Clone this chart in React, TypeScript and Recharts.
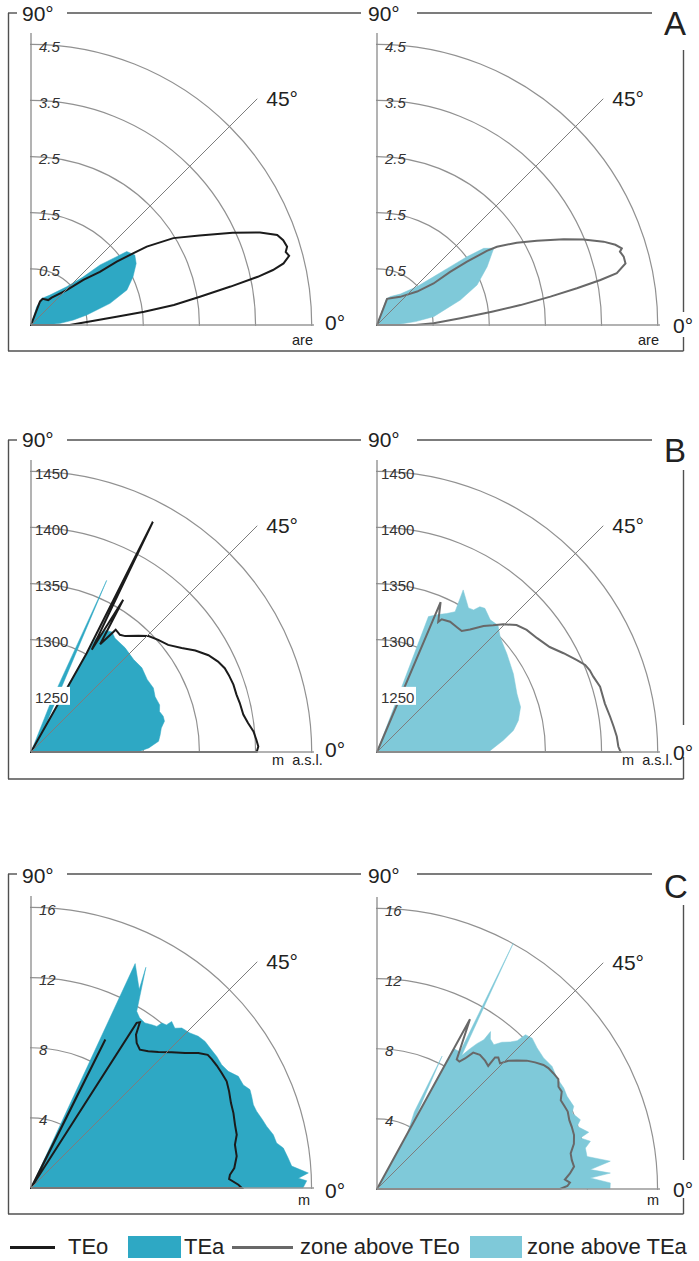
import React from "react";
import { RadarChart, Radar, PolarGrid, PolarAngleAxis, PolarRadiusAxis } from "recharts";

const FONT = "'Liberation Sans', Arial, Helvetica, sans-serif";
const TEA = "#2ea8c4";
const ZONE_TEA = "#7fc9d9";
const TEO = "#1b1b1b";
const ZONE_TEO = "#686868";

// ---------- A: area (are), polar angle in degrees ----------
const aLeftTeaAngle = [0, 3.3, 6.7, 10.2, 15.3, 20.1, 25.3, 30.3, 34, 37.5, 38.6, 41, 42.7, 47, 57.7, 68, 72.8, 75];
const aLeftTea = [-0.23, 0.02, 0.26, 0.51, 0.96, 1.32, 1.51, 1.67, 1.73, 1.65, 1.45, 1.13, 0.76, 0.43, 0.13, 0.01, -0.16, -0.5];
const aLeftTeoAngle = [0, 3.3, 5.5, 6.7, 8, 9.5, 10.9, 12, 12.8, 13.7, 15, 16, 17, 18.6, 20.1, 22, 24.6, 28, 31.4, 34.1, 35, 36.5, 37.7, 40.7, 44.4, 52.9, 55.3, 65.8, 69, 70];
const aLeftTeo = [0.19, 0.52, 1.03, 1.53, 2.07, 2.55, 3.12, 3.63, 3.92, 4.13, 4.26, 4.22, 4.27, 4.24, 4.17, 3.9, 3.45, 2.9, 2.47, 1.99, 1.73, 1.4, 1.05, 0.73, 0.39, 0.11, 0.04, 0.01, -0.05, -0.5];

const aRightTeaAngle = [0, 3, 5, 8.4, 16.7, 21.8, 27.9, 31.9, 33.3, 35.7, 37.2, 38.5, 40.4, 43.8, 53, 64.8, 70.3, 72];
const aRightTea = [-0.29, -0.05, 0.19, 0.52, 1.05, 1.42, 1.72, 1.91, 1.99, 1.84, 1.51, 1.17, 0.83, 0.49, 0.19, 0.06, -0.01, -0.5];
const aRightTeoAngle = [0, 1.7, 4.6, 6.6, 7.9, 9.3, 10.4, 11.4, 12.2, 13.9, 15.5, 16.8, 17.4, 18.6, 20.2, 22.5, 24.7, 27.8, 30.5, 33.1, 34, 35.1, 36, 36.3, 39.8, 50.5, 60.7, 69, 71];
const aRightTeo = [0.18, 0.51, 0.99, 1.56, 2.08, 2.63, 3.12, 3.56, 3.87, 4.06, 4.06, 4.02, 4.07, 3.98, 3.8, 3.48, 3.16, 2.72, 2.39, 2.05, 1.86, 1.46, 1.11, 0.75, 0.43, 0.15, 0.05, 0, -0.5];

// ---------- B: elevation (m a.s.l.) ----------
const bLeftTeaAngle = [0, 2, 4.8, 7.5, 10.4, 13, 15.1, 17.5, 20.1, 24, 27.6, 32, 37.2, 42, 47.9, 53.6, 56, 58.5, 60.3, 60.6, 61.3, 63.7, 66.2, 68.3, 69];
const bLeftTea = [1295, 1305, 1314, 1316, 1318, 1322, 1322, 1320, 1322, 1321, 1323, 1322, 1324, 1323, 1325, 1326, 1329, 1327, 1316, 1298, 1227, 1244, 1367, 1249, 1200];
const bLeftTeoAngle = [0, 1.4, 3.1, 5.3, 7.6, 10, 13.2, 15.6, 18.4, 21.3, 23.4, 25.8, 28.6, 31.7, 34.6, 38, 41.4, 44.6, 47.3, 50.9, 52.8, 55.3, 55.7, 57.3, 58.8, 59.3, 62.1, 60.6, 60.6];
const bLeftTeo = [1401, 1402.5, 1401, 1399, 1395, 1392, 1391, 1390, 1390, 1389, 1388, 1385, 1380, 1372, 1363, 1355, 1351, 1347, 1341, 1333, 1331, 1332.5, 1328, 1314, 1358.5, 1306, 1432, 1301, 1200];

const bRightTeaAngle = [0, 0.8, 5.3, 9, 12.6, 17.4, 22.6, 29.8, 37.1, 43, 46.3, 49.4, 53.1, 54.7, 55.8, 57.6, 62, 60.9, 63.3, 66, 69.2, 69.3];
const bRightTea = [1300, 1301, 1313, 1323, 1329, 1334, 1335, 1340, 1345, 1350, 1356, 1355, 1360, 1358.5, 1353, 1352, 1363.5, 1343, 1338, 1334, 1329, 1200];
const bRightTeoAngle = [0, 1.3, 3.7, 6.1, 8.6, 12, 16.3, 19.2, 21, 22.7, 24.7, 27.9, 31.3, 35.4, 39.2, 42.3, 45.3, 47.5, 49.8, 52.8, 55, 57.5, 60.7, 64, 64.8, 67, 67];
const bRightTeo = [1417, 1415, 1414, 1412, 1410, 1407.5, 1407, 1404, 1403, 1401, 1396, 1388, 1380, 1375, 1372, 1368, 1360, 1353, 1347, 1337, 1331.5, 1332, 1333, 1331.5, 1328, 1345, 1200];

// ---------- C: distance (m) ----------
const cLeftTeaAngle = [0, 1.5, 2.1, 3.1, 4.8, 6.6, 9, 10.4, 12.4, 14.7, 16.5, 18.8, 20.5, 22.6, 24.2, 25.9, 28.3, 30.6, 32.9, 35.3, 38, 40.1, 42.2, 44.3, 46.7, 48, 49.8, 50.3, 51.6, 52.1, 53.5, 55.4, 57.5, 59.1, 62.5, 61.4, 65.1, 65.3];
const cLeftTea = [15.51, 15.73, 15.26, 15.84, 14.92, 14.77, 14.57, 14.24, 14.15, 13.89, 13.76, 13.59, 13.54, 13.63, 13.69, 13.46, 13.43, 13.07, 12.95, 12.98, 12.96, 12.98, 12.88, 12.66, 12.54, 12.26, 12.43, 12.09, 12.01, 11.68, 11.58, 11.44, 11.52, 11.74, 14.19, 12.89, 14.11, 0];
const cLeftTeoAngle = [0, 0.9, 2.6, 3.8, 5.6, 8.8, 12, 14.5, 17.2, 20.3, 23, 26, 28.6, 31.1, 33.4, 35.5, 37, 38.9, 41.2, 44, 46.9, 49.4, 51.8, 53.9, 55.6, 56.3, 56.7, 57.4, 57.5, 63.4, 63.6];
const cLeftTeo = [12.02, 11.83, 11.31, 11.37, 11.65, 11.87, 11.89, 12.12, 12.18, 12.31, 12.39, 12.57, 12.71, 12.7, 12.69, 12.66, 12.62, 12.26, 11.68, 11.15, 10.63, 10.27, 10.04, 10.23, 10.6, 11.04, 11.31, 11.18, 0.17, 9.47, 0];

const cRightTeaAngle = [0, 1.5, 2.95, 3.9, 5.2, 6.8, 8.8, 11.1, 12.6, 14.1, 15, 17.4, 18.8, 21.3, 22.8, 26, 28.4, 31.7, 35, 38.2, 41.4, 44.2, 46.1, 46.6, 47.8, 49.6, 51, 52.9, 54.2, 54.4, 55.5, 56.5, 57.6, 61, 58.8, 61.3, 61.3, 63.9, 64.2, 61.3, 61.3];
const cRightTea = [13.29, 13.31, 12.18, 13.34, 12.22, 13.4, 12.12, 12.11, 12.47, 11.96, 12.5, 11.96, 12.25, 11.94, 12.17, 12.06, 12.11, 12.06, 12.19, 12.09, 12.17, 12.34, 12.21, 11.64, 11.32, 10.99, 10.59, 10.72, 11.07, 10.47, 10.06, 9.58, 9.01, 16.03, 9.13, 9.13, 4.2, 8.44, 4.9, 3.6, 0];
const cRightTeoAngle = [0, 0.9, 1.9, 2.9, 4.6, 6.5, 8.5, 10.4, 12.9, 15.3, 17.7, 19.7, 22.1, 23.9, 25.8, 27.8, 29.4, 31.2, 33.3, 35.2, 36.7, 38.7, 40.6, 42.6, 44.3, 45.6, 47.3, 48.1, 47.9, 49.9, 52.5, 54.8, 56, 57.1, 58.4, 61.3, 61.3];
const cRightTeo = [10.44, 10.86, 11.01, 10.73, 11.04, 11.31, 11.23, 11.23, 11.52, 11.65, 11.66, 11.65, 11.74, 11.69, 11.64, 11.91, 11.88, 12.09, 12.03, 11.96, 11.84, 11.55, 11.25, 10.82, 10.47, 10.03, 10.2, 10.08, 9.46, 9.57, 9.64, 9.52, 8.98, 8.65, 8.68, 11.04, 0];

// radius axis tick labels and grid arcs
const aLabels = [0.5, 1.5, 2.5, 3.5, 4.5];
const bLabels = [1250, 1300, 1350, 1400, 1450];
const bArcs = [1300, 1350, 1400, 1450];
const cLabels = [4, 8, 12, 16];

const legendItems = [
  { label: "TEo", kind: "line", color: TEO },
  { label: "TEa", kind: "box", color: TEA },
  { label: "zone above TEo", kind: "line", color: ZONE_TEO },
  { label: "zone above TEa", kind: "box", color: ZONE_TEA },
];

type Row = { angle: number; tea?: number; teo?: number };

function buildRows(teaAngle: number[], tea: number[], teoAngle: number[], teo: number[]): Row[] {
  return [
    ...teaAngle.map((angle, i) => ({ angle, tea: tea[i] })),
    ...teoAngle.map((angle, i) => ({ angle, teo: teo[i] })),
  ];
}

type Spec = {
  domain: [number, number];
  labels: number[];
  arcs: number[];
  axisTop: number;
  baseEnd: number;
  italic: boolean;
  boxed?: number;
  dx: number;
};

const specA: Spec = { domain: [-0.5, 5.2], labels: aLabels, arcs: aLabels, axisTop: 4.7, baseEnd: 4.54, italic: true, dx: 8 };
const specB: Spec = { domain: [1200, 1485], labels: bLabels, arcs: bArcs, axisTop: 1460, baseEnd: 1452, italic: false, boxed: 1250, dx: 4 };
const specC: Spec = { domain: [0, 18.25], labels: cLabels, arcs: cLabels, axisTop: 16.66, baseEnd: 16.14, italic: true, dx: 8 };

const W = 300;
const H = 300;

function Panel({ left, originY, rows, spec, teaColor, teoColor, diagUnder = false }: {
  left: number; originY: number; rows: Row[]; spec: Spec; teaColor: string; teoColor: string; diagUnder?: boolean;
}) {
  const [d0, d1] = spec.domain;
  const labelTick = (p: any) => {
    const v = p.payload.value;
    if (!spec.labels.includes(v)) return <g />;
    return (
      <g>
        {spec.boxed === v && <rect x={p.x + 2} y={p.y - 9} width={37} height={18} fill="#fff" />}
        <text x={p.x + spec.dx} y={p.y + 2} fontSize={15} fontFamily={FONT} fontStyle={spec.italic ? "italic" : "normal"}
          fill="#333" dominantBaseline="central">{v}</text>
      </g>
    );
  };
  const diagTick = (p: any) =>
    p.payload.value === d1 ? (
      <text x={p.x + 9} y={p.y + 7} fontSize={21} fontFamily={FONT} fill="#222">45°</text>
    ) : <g />;

  const diagAxis = (
    <PolarRadiusAxis radiusAxisId="d" angle={45} type="number" domain={spec.domain} allowDataOverflow ticks={[d0, d1]} tick={diagTick}
      axisLine={{ stroke: "#7d7d7d", strokeWidth: 1 }} />
  );

  return (
    <div style={{ position: "absolute", left: left - 1, top: originY - H + 1, width: W, height: H, overflow: "hidden" }}>
      <RadarChart width={W} height={H} data={rows} cx={1} cy={H - 1} outerRadius={320} startAngle={0} endAngle={90}
        margin={{ top: 0, right: 0, bottom: 0, left: 0 }}>
        <PolarGrid gridType="circle" radialLines={false} radiusAxisId="g" stroke="#919191" strokeWidth={1.2} />
        <PolarAngleAxis type="number" dataKey="angle" domain={[0, 90]} allowDataOverflow tick={false} axisLine={false} />
        <PolarRadiusAxis radiusAxisId="g" angle={90} type="number" domain={spec.domain} allowDataOverflow ticks={spec.arcs} tick={false} axisLine={false} />
        <PolarRadiusAxis radiusAxisId="h" angle={0} type="number" domain={spec.domain} allowDataOverflow ticks={[d0, spec.baseEnd]} tick={false}
          axisLine={{ stroke: "#999", strokeWidth: 1.6 }} />
        {diagUnder && diagAxis}
        <Radar radiusAxisId="g" dataKey="tea" fill={teaColor} fillOpacity={1} stroke={teaColor} strokeWidth={0.5} connectNulls dot={false} isAnimationActive={false} />
        <Radar radiusAxisId="g" dataKey="teo" fill="none" stroke={teoColor} strokeWidth={2} connectNulls dot={false} isAnimationActive={false} />
        {!diagUnder && diagAxis}
        <PolarRadiusAxis radiusAxisId="v" angle={90} type="number" domain={spec.domain} allowDataOverflow ticks={[d0, ...spec.labels, spec.axisTop]} tick={labelTick}
          axisLine={{ stroke: "#8a8a8a", strokeWidth: 1.3 }} />
      </RadarChart>
    </div>
  );
}

type FrameRow = {
  letter: string; top: number; bottom: number; ninety: number; letterBase: number;
  right: [number, number, number]; zeroL: number; zeroR: number; unit: string; unitXL: number; unitXR: number; unitBase: number;
};

const frameRows: FrameRow[] = [
  { letter: "A", top: 13, bottom: 351, ninety: 21, letterBase: 35, right: [50, 312, 337], zeroL: 330, zeroR: 333, unit: "are", unitXL: 292, unitXR: 638, unitBase: 345 },
  { letter: "B", top: 440, bottom: 779, ninety: 447, letterBase: 462, right: [470, 725, 757], zeroL: 757, zeroR: 760, unit: "m  a.s.l.", unitXL: 272, unitXR: 622, unitBase: 765 },
  { letter: "C", top: 874, bottom: 1214, ninety: 883, letterBase: 898, right: [905, 1160, 1198], zeroL: 1198, zeroR: 1197, unit: "m", unitXL: 298, unitXR: 647, unitBase: 1205 },
];

function Frames() {
  const line = { stroke: "#505050", strokeWidth: 1.4 };
  return (
    <svg width={699} height={1261} style={{ position: "absolute", left: 0, top: 0 }}>
      {frameRows.map((f) => (
        <g key={f.letter} fontFamily={FONT} fill="#222">
          <line x1={8.5} y1={f.top} x2={8.5} y2={f.bottom} {...line} />
          <line x1={8} y1={f.bottom} x2={683.5} y2={f.bottom} {...line} />
          <line x1={8} y1={f.top} x2={17} y2={f.top} {...line} />
          <line x1={67} y1={f.top} x2={361} y2={f.top} {...line} />
          <line x1={417} y1={f.top} x2={652} y2={f.top} {...line} />
          <line x1={683.5} y1={f.right[0]} x2={683.5} y2={f.right[1]} {...line} />
          <line x1={683.5} y1={f.right[2]} x2={683.5} y2={f.bottom} {...line} />
          <text x={22} y={f.ninety} fontSize={21}>90°</text>
          <text x={368} y={f.ninety} fontSize={21}>90°</text>
          <text x={664} y={f.letterBase} fontSize={33}>{f.letter}</text>
          <text x={325} y={f.zeroL} fontSize={21}>0°</text>
          <text x={673} y={f.zeroR} fontSize={21}>0°</text>
          <text x={f.unitXL} y={f.unitBase} fontSize={14.5} style={{ whiteSpace: "pre" }}>{f.unit}</text>
          <text x={f.unitXR} y={f.unitBase} fontSize={14.5} style={{ whiteSpace: "pre" }}>{f.unit}</text>
        </g>
      ))}
    </svg>
  );
}

const legendLeft = [10, 128, 232, 470];
const swatchWidth = [45, 53, 61, 52];
const textGap = [13, 3, 7, 5];

function Legend() {
  return (
    <>
      {legendItems.map((it, i) => (
        <div key={it.label} style={{ position: "absolute", left: legendLeft[i], top: 1235, height: 24, display: "flex", alignItems: "center", fontFamily: FONT, fontSize: 22, color: "#222", whiteSpace: "nowrap" }}>
          <div style={{ width: swatchWidth[i], height: it.kind === "line" ? 3 : 22, background: it.color }} />
          <span style={{ marginLeft: textGap[i] }}>{it.label}</span>
        </div>
      ))}
    </>
  );
}

export default function App() {
  return (
    <div style={{ position: "absolute", left: 0, top: 0, width: 699, height: 1261, background: "#fff", overflow: "hidden" }}>
      <Frames />
      <Panel left={31} originY={325} rows={buildRows(aLeftTeaAngle, aLeftTea, aLeftTeoAngle, aLeftTeo)} spec={specA} teaColor={TEA} teoColor={TEO} />
      <Panel left={377} originY={325} rows={buildRows(aRightTeaAngle, aRightTea, aRightTeoAngle, aRightTeo)} spec={specA} teaColor={ZONE_TEA} teoColor={ZONE_TEO} />
      <Panel left={31} originY={752} rows={buildRows(bLeftTeaAngle, bLeftTea, bLeftTeoAngle, bLeftTeo)} spec={specB} teaColor={TEA} teoColor={TEO} />
      <Panel left={377} originY={752} rows={buildRows(bRightTeaAngle, bRightTea, bRightTeoAngle, bRightTeo)} spec={specB} teaColor={ZONE_TEA} teoColor={ZONE_TEO} />
      <Panel left={31} originY={1188} rows={buildRows(cLeftTeaAngle, cLeftTea, cLeftTeoAngle, cLeftTeo)} spec={specC} teaColor={TEA} teoColor={TEO} />
      <Panel left={377} originY={1189} rows={buildRows(cRightTeaAngle, cRightTea, cRightTeoAngle, cRightTeo)} spec={specC} teaColor={ZONE_TEA} teoColor={ZONE_TEO} diagUnder />
      <Legend />
    </div>
  );
}
